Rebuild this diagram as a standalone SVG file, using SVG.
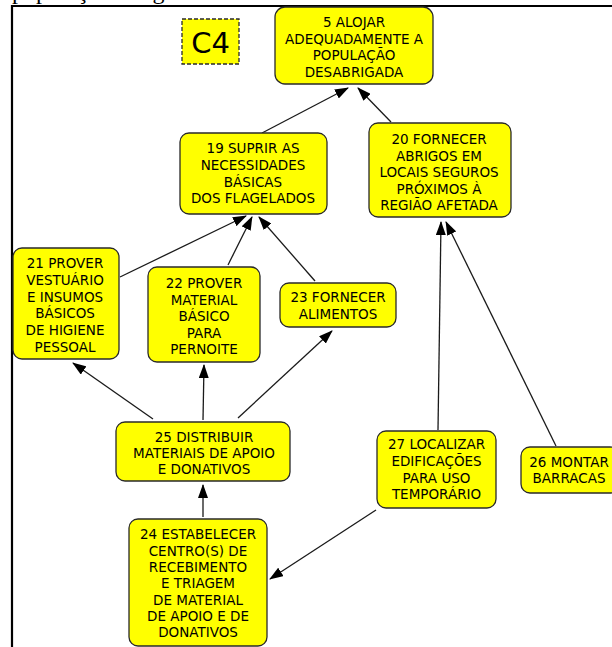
<svg xmlns="http://www.w3.org/2000/svg" width="612" height="647" viewBox="0 0 612 647">
<style>
.node rect{fill:#ffff00;stroke:#2a2a2a;stroke-width:1.3}
.node text{font-family:"DejaVu Sans",Verdana,sans-serif;font-size:13.5px;fill:#000;text-anchor:middle}
.edge{stroke:#1a1a1a;stroke-width:1.3;fill:none;marker-end:url(#arr)}
</style>
<defs>
<marker id="arr" viewBox="0 0 14 10" refX="13" refY="5" markerWidth="14" markerHeight="10" markerUnits="userSpaceOnUse" orient="auto">
<path d="M0,0 L14,5 L0,10 z" fill="#000"/>
</marker>
</defs>
<rect width="612" height="647" fill="#fff"/>
<text x="12" y="-1" font-family="Liberation Serif,serif" font-size="24" fill="#000">população atingida</text>
<g id="frame" stroke="#000" stroke-width="2.2" fill="none">
<line x1="11" y1="6" x2="612" y2="6"/>
<line x1="12" y1="5" x2="12" y2="647"/>
</g>
<g id="connectors">
<line class="edge" x1="262" y1="133" x2="348" y2="88"/>
<line class="edge" x1="391" y1="122" x2="358" y2="88"/>
<line class="edge" x1="120" y1="277" x2="246" y2="216"/>
<line class="edge" x1="228" y1="265" x2="252" y2="217"/>
<line class="edge" x1="315" y1="281" x2="259" y2="217"/>
<line class="edge" x1="153" y1="419" x2="73" y2="363"/>
<line class="edge" x1="203" y1="420" x2="204" y2="365"/>
<line class="edge" x1="238" y1="418" x2="332" y2="331"/>
<line class="edge" x1="203" y1="517" x2="203" y2="485"/>
<line class="edge" x1="376" y1="510" x2="270" y2="579"/>
<line class="edge" x1="438" y1="430" x2="441" y2="222"/>
<line class="edge" x1="556" y1="446" x2="446" y2="222"/>
</g>
<g id="c4">
<rect x="182" y="19" width="57" height="45" fill="#ffff00" stroke="#2a2a2a" stroke-width="1.3" stroke-dasharray="4,2"/>
<text x="210.5" y="53" font-family="DejaVu Sans,Verdana,sans-serif" font-size="29" text-anchor="middle" fill="#000">C4</text>
</g>
<g id="n5" class="node">
<rect x="275" y="7" width="158" height="77" rx="10"/>
<text><tspan x="354" y="27">5 ALOJAR</tspan><tspan x="354" y="44">ADEQUADAMENTE A</tspan><tspan x="354" y="60">POPULAÇÃO</tspan><tspan x="354" y="77">DESABRIGADA</tspan></text>
</g>
<g id="n19" class="node">
<rect x="180" y="133" width="147" height="81" rx="9"/>
<text><tspan x="253" y="153">19 SUPRIR AS</tspan><tspan x="253" y="170">NECESSIDADES</tspan><tspan x="253" y="187">BÁSICAS</tspan><tspan x="253" y="203">DOS FLAGELADOS</tspan></text>
</g>
<g id="n20" class="node">
<rect x="369" y="123" width="142" height="94" rx="9"/>
<text><tspan x="439" y="144">20 FORNECER</tspan><tspan x="439" y="161">ABRIGOS EM</tspan><tspan x="439" y="177">LOCAIS SEGUROS</tspan><tspan x="439" y="194">PRÓXIMOS À</tspan><tspan x="439" y="210">REGIÃO AFETADA</tspan></text>
</g>
<g id="n21" class="node">
<rect x="13" y="248" width="106" height="111" rx="9"/>
<text><tspan x="65" y="268">21 PROVER</tspan><tspan x="65" y="285">VESTUÁRIO</tspan><tspan x="65" y="302">E INSUMOS</tspan><tspan x="65" y="318">BÁSICOS</tspan><tspan x="65" y="335">DE HIGIENE</tspan><tspan x="65" y="352">PESSOAL</tspan></text>
</g>
<g id="n22" class="node">
<rect x="148" y="267" width="112" height="95" rx="9"/>
<text><tspan x="204" y="288">22 PROVER</tspan><tspan x="204" y="305">MATERIAL</tspan><tspan x="204" y="321">BÁSICO</tspan><tspan x="204" y="338">PARA</tspan><tspan x="204" y="354">PERNOITE</tspan></text>
</g>
<g id="n23" class="node">
<rect x="280" y="283" width="116" height="44" rx="9"/>
<text><tspan x="338" y="302">23 FORNECER</tspan><tspan x="338" y="319">ALIMENTOS</tspan></text>
</g>
<g id="n25" class="node">
<rect x="116" y="422" width="174" height="59" rx="9"/>
<text><tspan x="204" y="442">25 DISTRIBUIR</tspan><tspan x="204" y="458">MATERIAIS DE APOIO</tspan><tspan x="204" y="474">E DONATIVOS</tspan></text>
</g>
<g id="n27" class="node">
<rect x="377" y="431" width="119" height="77" rx="9"/>
<text><tspan x="436.5" y="449">27 LOCALIZAR</tspan><tspan x="436.5" y="466">EDIFICAÇÕES</tspan><tspan x="436.5" y="483">PARA USO</tspan><tspan x="436.5" y="499">TEMPORÁRIO</tspan></text>
</g>
<g id="n26" class="node">
<rect x="521" y="447" width="98" height="46" rx="9"/>
<text><tspan x="569" y="467">26 MONTAR</tspan><tspan x="569" y="483">BARRACAS</tspan></text>
</g>
<g id="n24" class="node">
<rect x="129" y="519" width="138" height="127" rx="9"/>
<text><tspan x="198" y="539">24 ESTABELECER</tspan><tspan x="198" y="555.5">CENTRO(S) DE</tspan><tspan x="198" y="572">RECEBIMENTO</tspan><tspan x="198" y="588">E TRIAGEM</tspan><tspan x="198" y="604.5">DE MATERIAL</tspan><tspan x="198" y="621">DE APOIO E DE</tspan><tspan x="198" y="637">DONATIVOS</tspan></text>
</g>
</svg>
